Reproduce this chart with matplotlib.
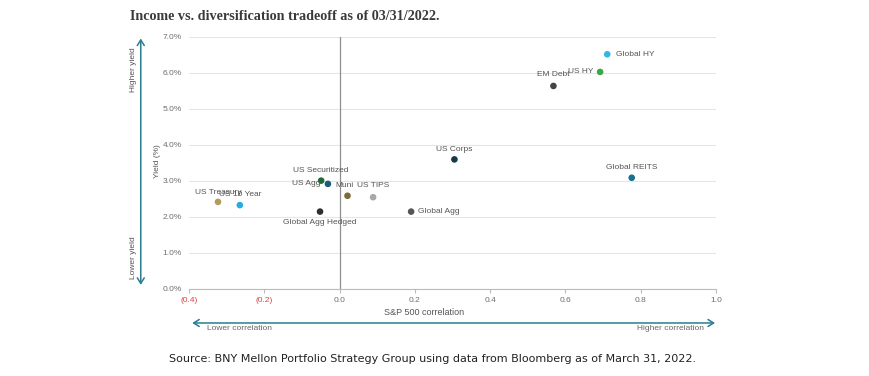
import matplotlib.pyplot as plt
from matplotlib.patches import FancyArrowPatch

plt.rcParams['font.family'] = ['Liberation Sans', 'DejaVu Sans']

# data
names = ["US Treasury", "US 10 Year", "US Securitized", "US Agg", "Global Agg Hedged",
         "Muni", "US TIPS", "Global Agg", "US Corps", "Global REITS",
         "EM Debt", "US HY", "Global HY"]
corr = [-0.323, -0.265, -0.049, -0.031, -0.052, 0.021, 0.089, 0.19, 0.305, 0.776,
        0.568, 0.692, 0.711]
yld = [2.42, 2.33, 3.01, 2.92, 2.15, 2.59, 2.55, 2.15, 3.60, 3.09, 5.64, 6.03, 6.52]
colors = ["#b39b5c", "#2aaae0", "#1e6a35", "#175e78", "#2e2e2e",
          "#7d6b3c", "#a8a8a8", "#555555", "#15394a", "#1a6f8f",
          "#444444", "#3ba64a", "#33b5e5"]
# label offsets in points (dx, dy, ha)
offsets = [(0, 6.5, "center"), (0, 7.5, "center"), (0, 7, "center"), (-5, 0, "right"),
           (0, -7.5, "center"), (-2, 7.5, "center"), (0, 8.5, "center"), (5, 0, "left"),
           (0, 7, "center"), (0, 7.5, "center"), (0, 8, "center"), (-5, 0.5, "right"),
           (6, 0, "left")]

xticks = [-0.4, -0.2, 0.0, 0.2, 0.4, 0.6, 0.8, 1.0]
xlabels = ["(0.4)", "(0.2)", "0.0", "0.2", "0.4", "0.6", "0.8", "1.0"]
yticks = [0, 1, 2, 3, 4, 5, 6, 7]

teal = "#2a7c92"
grey = "#6e6e6e"

fig = plt.figure(figsize=(8.69, 3.76), dpi=100)
ax = fig.add_axes([0.2175, 0.2314, 0.6065, 0.6702])

ax.scatter(corr, yld, c=colors, s=14, zorder=3)
for n, x, y, (dx, dy, ha) in zip(names, corr, yld, offsets):
    ax.annotate(n, (x, y), xytext=(dx, dy), textcoords="offset points",
                ha=ha, va="center", fontsize=6, color="#555555")

ax.axvline(0, color="#8f8f8f", lw=0.9, zorder=1)
ax.set_xlim(-0.4, 1.0)
ax.set_ylim(0, 7)
ax.set_xticks(xticks)
ax.set_xticklabels(xlabels, fontsize=6)
for lab, v in zip(ax.get_xticklabels(), xticks):
    lab.set_color("#d9423c" if v < 0 else grey)
ax.set_yticks(yticks)
ax.set_yticklabels(["%.1f%%" % v for v in yticks], fontsize=6, color=grey)
ax.tick_params(axis="y", length=0, pad=5)
ax.tick_params(axis="x", length=3, color="#bbbbbb", pad=3)
ax.grid(axis="y", color="#e6e6e6", lw=0.8)
ax.set_axisbelow(True)
for s in ["top", "right", "left"]:
    ax.spines[s].set_visible(False)
ax.spines["bottom"].set_color("#bbbbbb")

fig.text(0.15, 0.955, "Income vs. diversification tradeoff as of 03/31/2022.",
         fontsize=10.2, fontweight="bold", family="Liberation Serif", color="#3a3a3a",
         va="center")

# left arrow
fig.add_artist(FancyArrowPatch(
    (0.162, 0.905), (0.162, 0.235), transform=fig.transFigure,
    arrowstyle="<->,head_length=4,head_width=2.5", color=teal, lw=1.1))
fig.text(0.154, 0.814, "Higher yield", rotation=90, fontsize=6, color="#555555",
         ha="center", va="center")
fig.text(0.154, 0.314, "Lower yield", rotation=90, fontsize=6, color="#555555",
         ha="center", va="center")
fig.text(0.181, 0.571, "Yield (%)", rotation=90, fontsize=6, color="#555555",
         ha="center", va="center")

# bottom arrow
fig.add_artist(FancyArrowPatch(
    (0.218, 0.141), (0.826, 0.141), transform=fig.transFigure,
    arrowstyle="<->,head_length=4,head_width=2.5", color=teal, lw=1.1))
fig.text(0.238, 0.127, "Lower correlation", fontsize=6, color="#666666",
         ha="left", va="center")
fig.text(0.81, 0.127, "Higher correlation", fontsize=6, color="#666666",
         ha="right", va="center")
fig.text(0.488, 0.168, "S&P 500 correlation", fontsize=6.5, color="#555555",
         ha="center", va="center")

fig.text(0.498, 0.045,
         "Source: BNY Mellon Portfolio Strategy Group using data from Bloomberg as of March 31, 2022.",
         fontsize=8, family="DejaVu Sans", color="#222222", ha="center", va="center")

fig.savefig("out.png", dpi=100)
